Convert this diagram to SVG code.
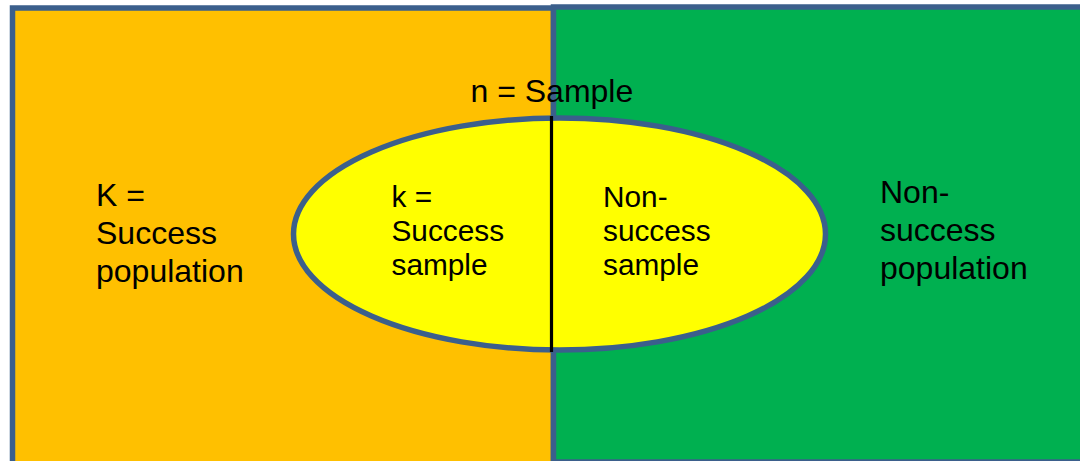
<svg xmlns="http://www.w3.org/2000/svg" width="1080" height="461" viewBox="0 0 1080 461">
  <style>
    .region { stroke: #3B5F8C; stroke-width: 5.5; }
    .label { font-family: "Liberation Sans", Arial, sans-serif; fill: #000; }
    .outer { font-size: 32px; }
    .inner { font-size: 29.8px; }
  </style>
  <rect width="1080" height="461" fill="#ffffff"/>

  <!-- Success population (left half) -->
  <g id="success-population">
    <rect class="region" x="12.5" y="8" width="541" height="456" fill="#FFC000"/>
    <text class="label outer" x="96" y="206">K =</text>
    <text class="label outer" x="96" y="244">Success</text>
    <text class="label outer" x="96" y="282">population</text>
  </g>

  <!-- Non-success population (right half) -->
  <g id="nonsuccess-population">
    <rect class="region" x="553.5" y="7" width="540" height="455" fill="#00B050"/>
    <text class="label outer" x="880" y="203">Non-</text>
    <text class="label outer" x="880" y="241">success</text>
    <text class="label outer" x="880" y="279">population</text>
  </g>

  <!-- Sample ellipse -->
  <g id="sample">
    <ellipse class="region" cx="559.5" cy="234" rx="266" ry="116" fill="#FFFF00" stroke-width="5"/>
  </g>

  <!-- Divider splitting the sample -->
  <g id="connectors">
    <line x1="551.5" y1="116" x2="551.5" y2="352" stroke="#000" stroke-width="3.2"/>
  </g>

  <g id="success-sample">
    <text class="label inner" x="391.5" y="206.5">k =</text>
    <text class="label inner" x="391.5" y="240.5">Success</text>
    <text class="label inner" x="391.5" y="274.5">sample</text>
  </g>

  <g id="nonsuccess-sample">
    <text class="label inner" x="603" y="206.5">Non-</text>
    <text class="label inner" x="603" y="240.5">success</text>
    <text class="label inner" x="603" y="274.5">sample</text>
  </g>

  <g id="sample-title">
    <text class="label outer" x="470.5" y="102">n = Sample</text>
  </g>
</svg>
